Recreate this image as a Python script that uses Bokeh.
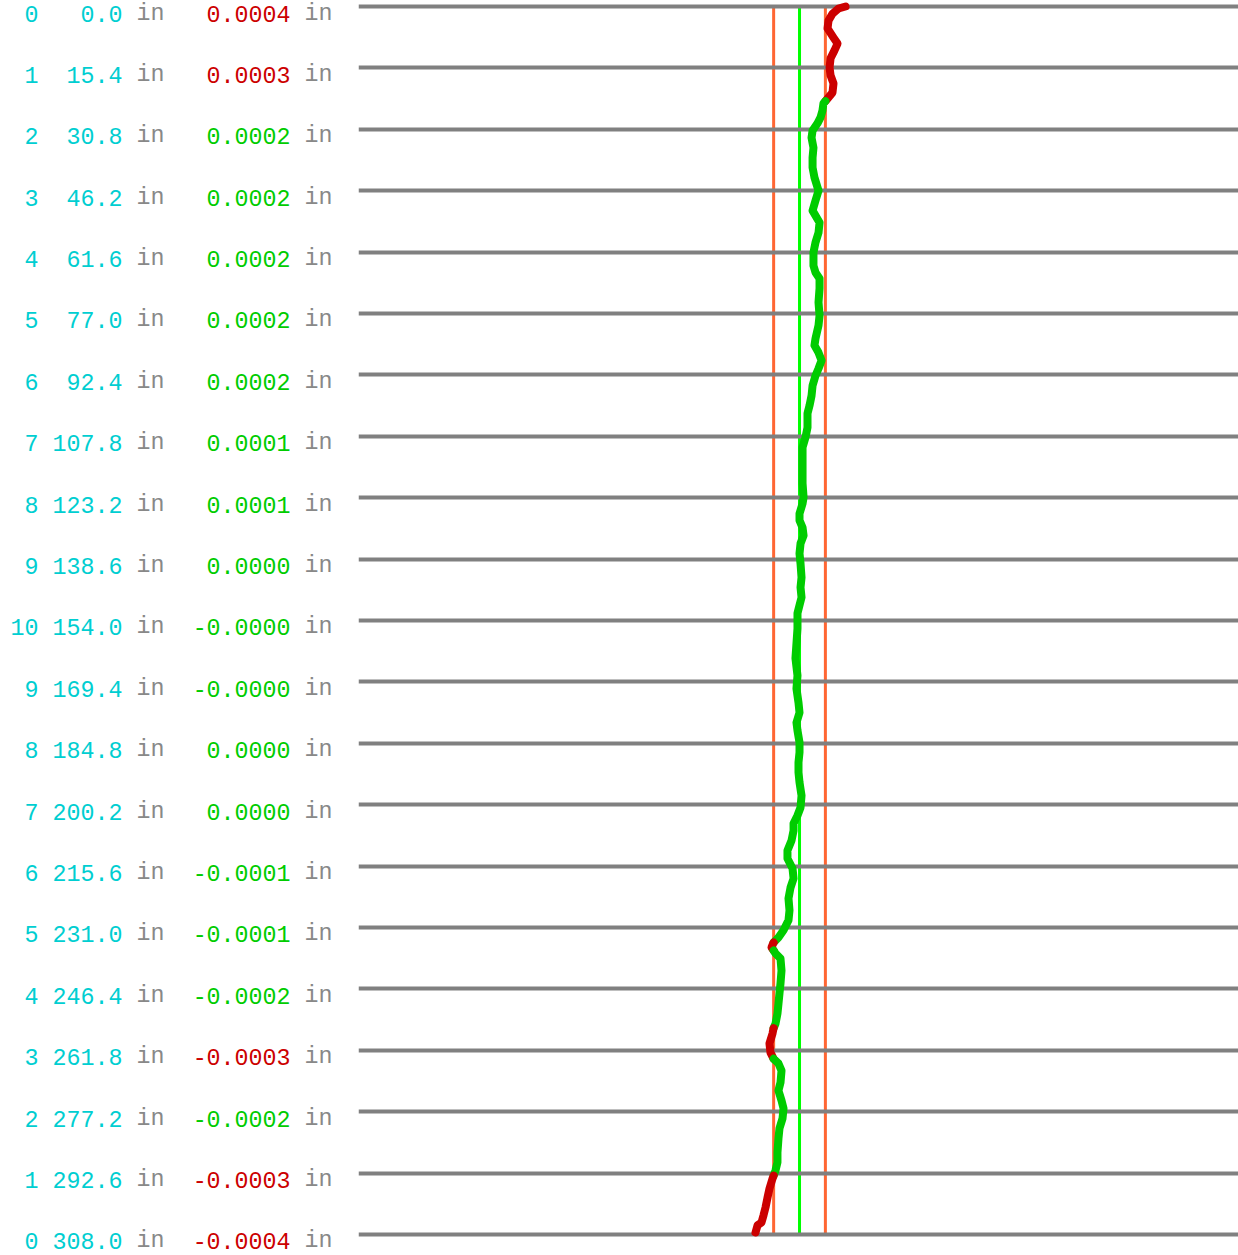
from bokeh.plotting import figure
from bokeh.layouts import row
from bokeh.models import Range1d, ColumnDataSource
from bokeh.core.properties import value
from bokeh.embed import file_html
from bokeh.resources import INLINE

# ---------------- data ----------------
station_index = [0, 1, 2, 3, 4, 5, 6, 7, 8, 9, 10, 9, 8, 7, 6, 5, 4, 3, 2, 1, 0]
station_pos = [0.0, 15.4, 30.8, 46.2, 61.6, 77.0, 92.4, 107.8, 123.2, 138.6, 154.0,
               169.4, 184.8, 200.2, 215.6, 231.0, 246.4, 261.8, 277.2, 292.6, 308.0]
station_dev = [0.00041, 0.00026, 0.00021, 0.00019, 0.00018, 0.00018, 0.00017, 0.00011,
               0.00006, 0.00002, -0.00001, -0.00002, 0.00001, 0.00001, -0.00007, -0.00012,
               -0.00019, -0.00026, -0.00021, -0.00026, -0.00039]
tolerance = 0.00023  # inches

profile_pos = [0.0, 0.5, 1.8, 3.5, 5.5, 7.8, 9.3, 11.0, 13.0, 15.3, 17.3, 19.3, 21.6, 23.1,
               24.3, 26.1, 27.8, 29.3, 31.1, 32.9, 35.4, 37.9, 40.4, 42.9, 46.2, 48.7, 51.2,
               54.2, 56.7, 59.2, 61.7, 65.0, 66.7, 68.2, 70.7, 74.2, 77.5, 80.0, 83.3, 85.0,
               86.8, 88.8, 90.8, 92.6, 95.1, 97.6,
               100.1, 102.1, 105.6, 108.1, 110.6, 113.9, 117.1, 119.6, 123.1, 124.7, 127.2,
               128.9, 130.7, 132.7, 134.7, 137.2, 139.7, 143.2, 145.7, 148.2, 150.2,
               152.2, 156.0, 163.5, 167.8, 171.1, 174.6, 177.1, 179.6, 181.6, 184.6, 187.1,
               189.6, 192.1, 194.6, 197.9, 200.9, 202.9,
               204.9, 206.7, 209.2, 211.7, 213.7, 216.2, 218.7, 221.0, 223.7, 226.7, 229.2,
               231.7, 233.5, 234.8, 236.0, 237.5, 238.8, 241.8, 245.0, 247.5, 250.1, 252.6,
               255.1,
               256.3, 257.6, 260.1, 262.4, 263.9, 265.1, 266.9, 269.9, 271.9, 274.4, 276.4,
               278.9, 281.4, 283.9, 287.4, 289.9, 291.9, 294.0, 296.5, 298.7, 301.2, 303.2,
               305.0, 305.7, 307.5]
# deviation in units of 0.0001 in
profile_dev_1e4 = [4.09, 3.47, 2.93, 2.58, 2.49, 3.02, 3.38, 3.11, 2.76, 2.67, 2.76, 3.02, 2.93, 2.49,
                   2.13, 2.04, 1.87, 1.60, 1.16, 1.07, 1.24, 1.16, 1.16, 1.33, 1.69, 1.42, 1.16,
                   1.78, 1.69, 1.42, 1.24, 1.24, 1.42, 1.78, 1.78, 1.69, 1.78, 1.69, 1.42, 1.33,
                   1.69, 1.96, 1.69, 1.42, 1.16, 1.07,
                   0.89, 0.71, 0.71, 0.53, 0.27, 0.27, 0.27, 0.27, 0.36, 0.27, 0.00, 0.00, 0.27,
                   0.36, 0.09, 0.00, 0.09, 0.18, 0.09, 0.18, 0.00,
                   -0.18, -0.18, -0.36, -0.18, -0.27, -0.09, 0.00, -0.27, -0.18, 0.00, 0.00,
                   -0.09, -0.09, 0.00, 0.18, 0.09, -0.18,
                   -0.53, -0.53, -0.71, -1.07, -1.07, -0.62, -0.53, -0.80, -0.98, -0.89, -0.98,
                   -1.42, -1.87, -2.31, -2.49, -2.13, -1.69, -1.60, -1.69, -1.78, -1.87, -1.96,
                   -2.13,
                   -2.31, -2.40, -2.67, -2.58, -2.31, -1.87, -1.60, -1.69, -1.87, -1.60, -1.42,
                   -1.51, -1.78, -1.87, -1.96, -1.96, -2.13, -2.40, -2.67, -2.84, -3.02, -3.20,
                   -3.38, -3.73, -3.91]

# ---------------- styling ----------------
CYAN = "#00ced1"
GRAY_TXT = "#888888"
GOOD = "#00cc00"
BAD = "#cc0000"
FONT = value("Liberation Mono")
FSIZE = value("23.3px")

H = 1255
y_range = Range1d(start=313.27, end=-1.505)

# ---------------- left: labels ----------------
left = figure(width=358, height=H, x_range=Range1d(0, 358), y_range=y_range,
              output_backend="svg", toolbar_location=None, min_border=0,
              outline_line_color=None, tools="")
left.axis.visible = False
left.grid.visible = False

col = 14.0
x0 = 10.0
idx_txt = [str(i) for i in station_index]
pos_txt = [f"{p:.1f}" for p in station_pos]
dev_txt = [f"{d:.4f}" for d in station_dev]
dev_col = [BAD if abs(d) > tolerance else GOOD for d in station_dev]
n = len(station_pos)

src = ColumnDataSource(dict(
    y=station_pos, idx=idx_txt, pos=pos_txt, dev=dev_txt, devc=dev_col,
    xi=[x0 + 2 * col] * n, xp=[x0 + 8 * col] * n, xin1=[x0 + 9 * col] * n,
    xd=[x0 + 20 * col] * n, xin2=[x0 + 21 * col] * n, unit=["in"] * n))

common = dict(y="y", source=src, text_font=FONT, text_font_size=FSIZE,
              text_baseline="alphabetic", y_offset=7)
left.text(x="xi", text="idx", text_color=CYAN, text_align="right", **common)
left.text(x="xp", text="pos", text_color=CYAN, text_align="right", **common)
left.text(x="xin1", text="unit", text_color=GRAY_TXT, text_align="left", **common)
left.text(x="xd", text="dev", text_color="devc", text_align="right", **common)
left.text(x="xin2", text="unit", text_color=GRAY_TXT, text_align="left", **common)

# ---------------- right: profile ----------------
right = figure(width=880, height=H, x_range=Range1d(-0.00392, 0.003902), y_range=y_range,
               output_backend="svg", toolbar_location=None, min_border=0,
               outline_line_color=None, tools="")
right.axis.visible = False
right.grid.visible = False

top, bot = station_pos[0], station_pos[-1]
right.segment(x0=[-tolerance, tolerance], y0=[top, top], x1=[-tolerance, tolerance],
              y1=[bot, bot], line_color="#ff6633", line_width=3)
right.segment(x0=[0.0], y0=[top], x1=[0.0], y1=[bot], line_color="#00ff00", line_width=3)
right.hspan(y=station_pos, line_color="#808080", line_width=4)

# split profile into in/out-of-tolerance runs
dev = [v * 1e-4 for v in profile_dev_1e4]
runs = []
cx, cy = [dev[0]], [profile_pos[0]]
cur = abs(dev[0]) > tolerance
for i in range(1, len(dev)):
    out = abs(dev[i]) > tolerance
    if out != cur:
        a0, a1 = abs(dev[i - 1]), abs(dev[i])
        t = (a0 - tolerance) / (a0 - a1) if a0 != a1 else 0.5
        xc = dev[i - 1] + t * (dev[i] - dev[i - 1])
        yc = profile_pos[i - 1] + t * (profile_pos[i] - profile_pos[i - 1])
        cx.append(xc); cy.append(yc)
        runs.append((cx, cy, cur))
        cx, cy = [xc], [yc]
        cur = out
    cx.append(dev[i]); cy.append(profile_pos[i])
runs.append((cx, cy, cur))

for rx, ry, bad in runs:
    right.line(rx, ry, line_color=BAD if bad else GOOD, line_width=8,
               line_cap="round", line_join="round")

layout = row(left, right)
open("out.html", "w").write(file_html(layout, INLINE))
